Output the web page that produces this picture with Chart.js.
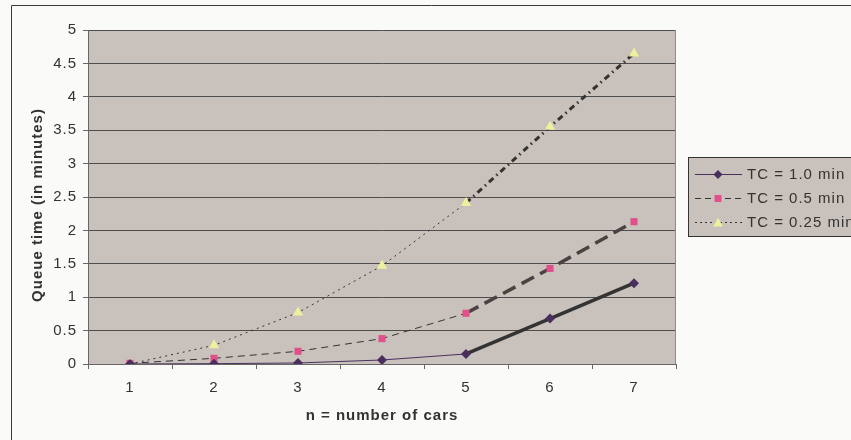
<!DOCTYPE html>
<html>
<head>
<meta charset="utf-8">
<script src="https://cdn.jsdelivr.net/npm/chart.js@4/dist/chart.umd.min.js"></script>
<style>
  html, body { margin: 0; padding: 0; background: #fafaf9; }
  canvas { display: block; }
</style>
</head>
<body>
<canvas id="queueChart" width="851" height="440"></canvas>
<script>
const cars = ['1', '2', '3', '4', '5', '6', '7'];
const tc10 = [0, 0.005, 0.015, 0.06, 0.15, 0.68, 1.21];
const tc05 = [0.01, 0.085, 0.19, 0.38, 0.76, 1.43, 2.13];
const tc025 = [0, 0.28, 0.77, 1.47, 2.41, 3.55, 4.65];
const yTickLabels = ['0', '0.5', '1', '1.5', '2', '2.5', '3', '3.5', '4', '4.5', '5'];
const seriesNames = ['TC = 1.0 min', 'TC = 0.5 min', 'TC = 0.25 min'];
const yTitle = 'Queue time (in minutes)';
const xTitle = 'n = number of cars';

const PLOT_BG = '#c9c1bb';
const FONT = '"Liberation Sans", Arial, sans-serif';
const SPACING = '1px';

// segments after n = 5 are drawn heavier, as in the original sheet
const heavy = ctx => ctx.p0DataIndex >= 4;

// legend look of each series (thin style)
const legendStyles = [
    { color: '#4a3060', width: 1, dash: [], marker: 'diamond', fill: '#4a2f5e' },
    { color: '#333333', width: 1, dash: [6, 4], marker: 'square', fill: '#e0508a' },
    { color: '#333333', width: 1, dash: [2, 3], marker: 'triangle', fill: '#eef0a0' }
];

function drawMarker(ctx, type, x, y, fill) {
    ctx.save();
    ctx.fillStyle = fill;
    ctx.setLineDash([]);
    ctx.beginPath();
    if (type === 'diamond') {
        ctx.moveTo(x, y - 4.5); ctx.lineTo(x + 4.5, y); ctx.lineTo(x, y + 4.5); ctx.lineTo(x - 4.5, y);
    } else if (type === 'square') {
        ctx.rect(x - 3.5, y - 3.5, 7, 7);
    } else {
        ctx.moveTo(x, y - 5); ctx.lineTo(x + 5, y + 4); ctx.lineTo(x - 5, y + 4);
    }
    ctx.closePath();
    ctx.fill();
    ctx.restore();
}

function setSpacing(ctx) {
    if ('letterSpacing' in ctx) ctx.letterSpacing = SPACING;
}

const framePlugin = {
    id: 'frame',
    beforeUpdate(chart) { setSpacing(chart.ctx); },
    beforeDraw(chart) {
        const { ctx, chartArea: a } = chart;
        setSpacing(ctx);
        ctx.save();
        ctx.fillStyle = '#fafaf9';
        ctx.fillRect(0, 0, chart.width, chart.height);
        ctx.strokeStyle = '#3a3a3a';
        ctx.lineWidth = 1;
        ctx.beginPath();
        ctx.moveTo(11.5, chart.height);
        ctx.lineTo(11.5, 5.5);
        ctx.lineTo(chart.width, 5.5);
        ctx.stroke();
        ctx.fillStyle = PLOT_BG;
        ctx.fillRect(a.left, a.top, a.right - a.left, a.bottom - a.top);

        // y axis title, sits a little below the plot centre in the original
        ctx.translate(38, 205);
        ctx.rotate(-Math.PI / 2);
        ctx.font = 'bold 15px ' + FONT;
        ctx.fillStyle = '#333';
        ctx.textAlign = 'center';
        ctx.textBaseline = 'middle';
        ctx.fillText(yTitle, 0, 0);
        ctx.restore();
    },
    afterDraw(chart) {
        const { ctx, chartArea: a } = chart;
        ctx.save();
        ctx.strokeStyle = '#8a8a8a';
        ctx.lineWidth = 1;
        ctx.beginPath();
        ctx.moveTo(Math.round(a.right) - 0.5, a.top);
        ctx.lineTo(Math.round(a.right) - 0.5, a.bottom);
        ctx.stroke();

        // legend
        const bx = 688.5, by = 157.5, bw = 180, bh = 79;
        ctx.fillStyle = PLOT_BG;
        ctx.fillRect(bx, by, bw, bh);
        ctx.strokeStyle = '#333';
        ctx.strokeRect(bx, by, bw, bh);
        const rows = [174, 198, 222];
        ctx.font = '15px ' + FONT;
        ctx.textBaseline = 'middle';
        ctx.textAlign = 'left';
        legendStyles.forEach((s, i) => {
            const y = rows[i] + 0.5;
            ctx.strokeStyle = s.color;
            ctx.lineWidth = s.width;
            ctx.setLineDash(s.dash);
            ctx.beginPath();
            ctx.moveTo(695, y);
            ctx.lineTo(742, y);
            ctx.stroke();
            drawMarker(ctx, s.marker, 718, y, s.fill);
            ctx.fillStyle = '#333';
            ctx.fillText(seriesNames[i], 747, rows[i] + 1);
        });
        ctx.restore();
    }
};

new Chart(document.getElementById('queueChart').getContext('2d'), {
    type: 'line',
    data: {
        labels: cars,
        datasets: [
            {
                label: seriesNames[0],
                data: tc10,
                borderColor: '#4a3060',
                borderWidth: 1,
                pointStyle: 'rectRot',
                pointRadius: 5,
                pointBackgroundColor: '#4a2f5e',
                pointBorderColor: '#4a2f5e',
                pointBorderWidth: 0,
                segment: {
                    borderWidth: ctx => heavy(ctx) ? 3.5 : 1,
                    borderColor: ctx => heavy(ctx) ? '#333333' : '#4a3060'
                }
            },
            {
                label: seriesNames[1],
                data: tc05,
                borderColor: '#333333',
                borderWidth: 1,
                borderDash: [7, 5],
                pointStyle: 'rect',
                pointRadius: 5,
                pointBackgroundColor: '#e0508a',
                pointBorderColor: '#e0508a',
                pointBorderWidth: 0,
                segment: {
                    borderWidth: ctx => heavy(ctx) ? 3.5 : 1,
                    borderColor: ctx => heavy(ctx) ? '#4a4242' : '#333333',
                    borderDash: ctx => heavy(ctx) ? [14, 7] : [7, 5]
                }
            },
            {
                label: seriesNames[2],
                data: tc025,
                borderColor: '#333333',
                borderWidth: 1,
                borderDash: [2, 4],
                pointStyle: 'triangle',
                pointRadius: 6,
                pointBackgroundColor: '#eef0a0',
                pointBorderColor: '#eef0a0',
                pointBorderWidth: 0,
                segment: {
                    borderWidth: ctx => heavy(ctx) ? 3 : 1,
                    borderDash: ctx => heavy(ctx) ? [6, 4, 1.5, 4] : [2, 4]
                }
            }
        ]
    },
    options: {
        responsive: false,
        animation: false,
        layout: { padding: { left: 26, top: 30, right: 175, bottom: 11 } },
        plugins: {
            legend: { display: false },
            tooltip: { enabled: false }
        },
        elements: { line: { tension: 0 } },
        scales: {
            x: {
                offset: true,
                afterFit: scale => { scale.height = 65; },
                grid: { offset: true, drawOnChartArea: false, drawTicks: true, tickLength: 5, tickColor: '#666' },
                border: { color: '#666', width: 1 },
                ticks: { color: '#333', font: { family: FONT, size: 15 }, padding: 10, maxRotation: 0 },
                title: { display: true, text: xTitle, color: '#333', font: { family: FONT, size: 15, weight: 'bold' } }
            },
            y: {
                min: 0,
                max: 5,
                afterFit: scale => { scale.width = 62; },
                grid: { color: '#4d4d4d', lineWidth: 1, drawTicks: true, tickLength: 5, tickColor: '#666' },
                border: { color: '#666', width: 1 },
                ticks: {
                    stepSize: 0.5,
                    color: '#333',
                    font: { family: FONT, size: 15 },
                    padding: 6,
                    callback: (v, i) => yTickLabels[i]
                },
                title: { display: false }
            }
        }
    },
    plugins: [framePlugin]
});
</script>
</body>
</html>
